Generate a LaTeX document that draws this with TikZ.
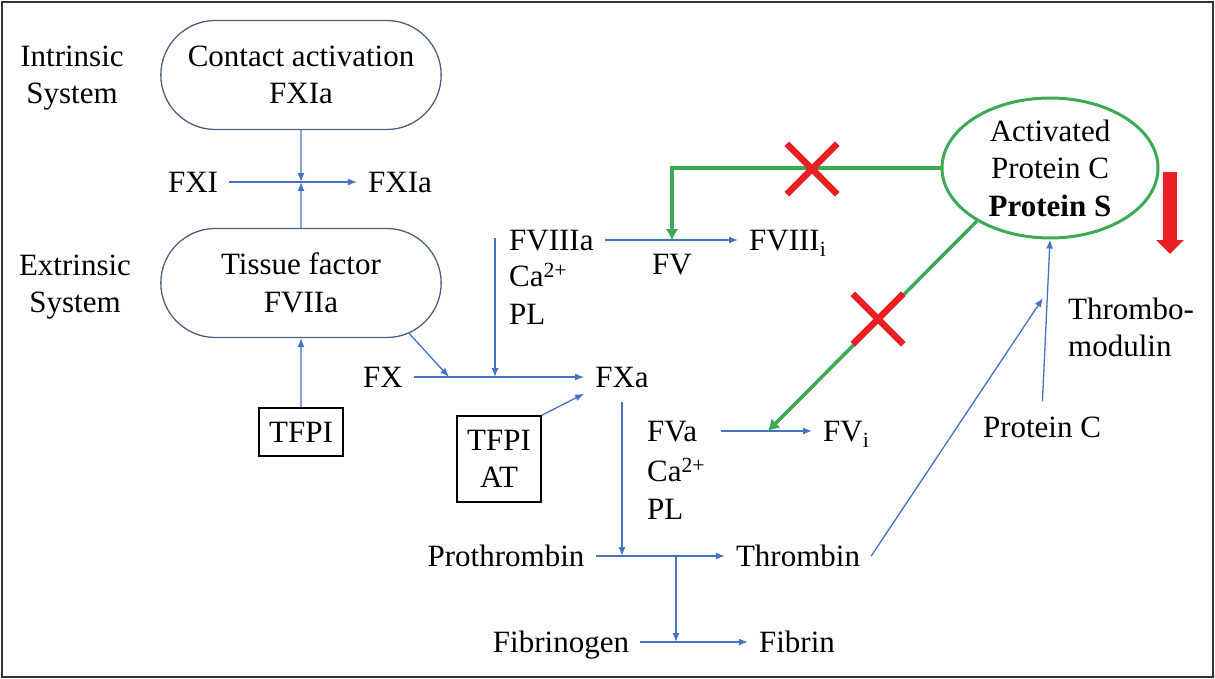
\documentclass[tikz,border=0pt]{standalone}
\usepackage{fontspec}
\setmainfont{Liberation Serif}
\usetikzlibrary{arrows.meta, shapes.geometric, shapes.misc}

\definecolor{flowblue}{RGB}{68,114,196}
\definecolor{apcgreen}{RGB}{60,170,85}
\definecolor{stopred}{RGB}{232,32,38}
\definecolor{pillline}{RGB}{80,95,125}

\tikzset{
  every node/.style={font=\fontsize{31}{37.5}\selectfont},
  lbl/.style={inner xsep=11pt, inner ysep=6pt, text height=21pt, text depth=0pt},
  lines/.style={align=left, inner sep=0pt, anchor=west},
  pill/.style={rounded rectangle, draw=pillline, line width=1.3pt,
    minimum width=287pt, minimum height=109pt, align=center},
  inhbox/.style={draw, line width=1.4pt, minimum width=84pt, align=center},
  flow/.style={draw=flowblue, line width=1.3pt, -{Latex[length=9pt,width=7pt]}},
  inhib/.style={draw=apcgreen, line width=3.5pt, -{Latex[length=11pt,width=13pt]}},
  xmark/.style={cross out, draw=stopred, line width=6.5pt, minimum size=44pt, inner sep=0pt},
}

\begin{document}
\begin{tikzpicture}[x=1pt, y=-1pt]
  \useasboundingbox (0,0) rectangle (1215,679);
  \draw[line width=2pt, black!80] (2,2) rectangle (1213,677);

  % left column
  \node[align=center] (intr) at (72,78) {Intrinsic\\System};
  \node[align=center] (extr) at (75,287) {Extrinsic\\System};
  \node[pill] (contact) at (301,75) {Contact activation\\FXIa};
  \node[pill] (tissue) at (301,283) {Tissue factor\\FVIIa};
  \node[lbl] (fxi) at (193,182) {FXI};
  \node[lbl] (fxia) at (400,182) {FXIa};
  \node[inhbox, minimum height=48pt] (tfpi) at (301,432) {TFPI};
  \coordinate (fxj) at (301,182);

  % factor X
  \node[lbl] (fx) at (383,377) {FX};
  \node[lbl] (fxa) at (622,377) {FXa};
  \node[inhbox, minimum height=86pt] (tfpiat) at (499,459) {TFPI\\AT};
  \coordinate (fxj1) at (449,377);
  \coordinate (fxj2) at (495,377);
  \coordinate (fviiitop) at (495,238);

  % cofactors
  \node[lbl, anchor=west] (fviiia) at (498,240) {FVIIIa};
  \node[lines] (fviiico) at (509,294) {Ca\textsuperscript{2+}\\PL};
  \node[lbl, anchor=west] (fviiii) at (738,240) {FVIII\textsubscript{i}};
  \node[lbl] (fv) at (672,264) {FV};
  \coordinate (fviiij) at (672,240);
  \node[lbl, anchor=west] (fva) at (636,431) {FVa};
  \node[lines] (fvaco) at (647,489) {Ca\textsuperscript{2+}\\PL};
  \node[lbl, anchor=west] (fvi) at (812,431) {FV\textsubscript{i}};
  \coordinate (fvaj) at (768,431);

  % thrombin and fibrin
  \node[lbl] (proth) at (506,556) {Prothrombin};
  \node[lbl] (thromb) at (798,556) {Thrombin};
  \node[lbl] (fibrinogen) at (561,642) {Fibrinogen};
  \node[lbl] (fibrin) at (797,642) {Fibrin};
  \coordinate (pj1) at (622,556);
  \coordinate (pj2) at (676,556);
  \coordinate (fj) at (676,642);

  % protein C
  \node[ellipse, draw=apcgreen, line width=3pt, minimum width=216pt,
    minimum height=140pt, inner sep=0pt, align=center] (apc) at (1050,168)
    {Activated\\Protein C\\\textbf{Protein S}};
  \node[lbl] (protc) at (1042,427) {Protein C};
  \node[lines] (thrmod) at (1068,327.5) {Thrombo-\\modulin};
  \coordinate (tmj) at (1043,298);
  \coordinate (tmtop) at (1170,172);
  \coordinate (tmtip) at (1170,254);

  \draw[flow] (contact) -- (fxj);
  \draw[flow] (tissue) -- (fxj);
  \draw[flow] (fxi) -- (fxia);
  \draw[flow] (tfpi) -- (tissue);
  \draw[flow] (tissue.-25) -- (fxj1);
  \draw[flow] (fviiitop) -- (fxj2);
  \draw[flow] (fx) -- (fxa);
  \draw[flow] (tfpiat.north east) -- (fxa.south west);
  \draw[flow] (fviiia) -- (fviiii);
  \draw[flow, shorten <=13pt] (fva) -- (fvi);
  \draw[flow, shorten <=8pt] (fxa) -- (pj1);
  \draw[flow] (proth) -- (thromb);
  \draw[flow] (pj2) -- (fj);
  \draw[flow] (fibrinogen) -- (fibrin);
  \draw[flow] (thromb.east) -- (tmj);
  \draw[flow, shorten <=9pt] (protc.north) -- (apc.south);

  \draw[inhib] (apc.west) -| (fviiij);
  \draw[inhib] (apc.216) -- (fvaj);
  \node[xmark] (x1) at (812,169) {};
  \node[xmark] (x2) at (878,319) {};
  \draw[draw=stopred, line width=14pt, -{Triangle[length=14pt,width=27pt]}] (tmtop) -- (tmtip);
\end{tikzpicture}
\end{document}
